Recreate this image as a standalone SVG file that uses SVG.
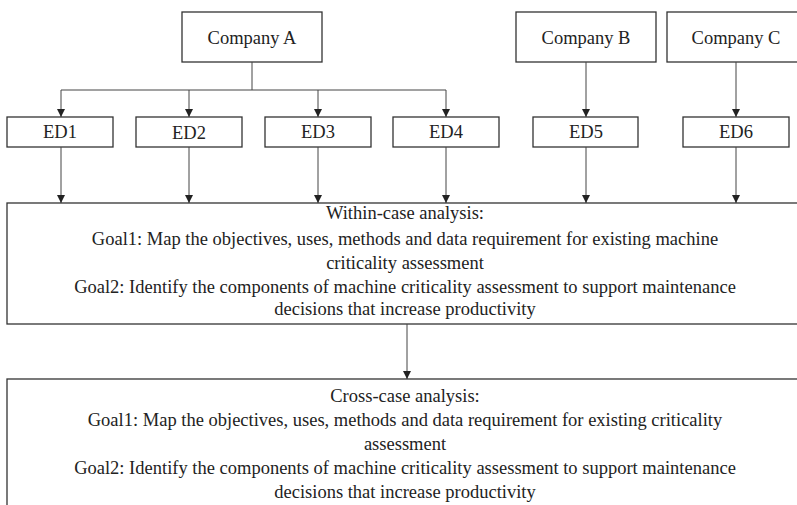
<svg xmlns="http://www.w3.org/2000/svg" width="797" height="505" viewBox="0 0 797 505">
<style>
.box{fill:#fff;stroke:#333;stroke-width:1.3}
.t{font-family:"Liberation Serif","Times New Roman",serif;font-size:18.5px;fill:#222;text-anchor:middle}
.c{fill:none;stroke:#444;stroke-width:1}
</style>
<defs>
<marker id="ah" markerWidth="8" markerHeight="8" refX="8" refY="4" orient="auto" markerUnits="userSpaceOnUse">
<path d="M0,0 L8,4 L0,8 Z" fill="#222"/>
</marker>
</defs>
<rect width="797" height="505" fill="#fff"/>
<g id="companyA"><rect class="box" x="182" y="12" width="140" height="50"/><text class="t" x="252" y="44">Company A</text></g>
<g id="companyB"><rect class="box" x="516" y="12" width="140" height="50"/><text class="t" x="586" y="44">Company B</text></g>
<g id="companyC"><rect class="box" x="667" y="12" width="140" height="50"/><text class="t" x="736" y="44">Company C</text></g>
<g id="ed1"><rect class="box" x="7" y="117" width="106" height="30"/><text class="t" x="60" y="138">ED1</text></g>
<g id="ed2"><rect class="box" x="136" y="117" width="106" height="30"/><text class="t" x="189" y="139">ED2</text></g>
<g id="ed3"><rect class="box" x="265" y="117" width="106" height="30"/><text class="t" x="318" y="138">ED3</text></g>
<g id="ed4"><rect class="box" x="393" y="117" width="106" height="30"/><text class="t" x="446" y="138">ED4</text></g>
<g id="ed5"><rect class="box" x="533" y="117" width="105" height="30"/><text class="t" x="586" y="138">ED5</text></g>
<g id="ed6"><rect class="box" x="683" y="117" width="106" height="30"/><text class="t" x="736" y="138">ED6</text></g>
<g id="within"><rect class="box" x="7" y="203" width="800" height="121"/>
<text class="t" x="405" y="219">Within-case analysis:</text>
<text class="t" x="405" y="245">Goal1: Map the objectives, uses, methods and data requirement for existing machine</text>
<text class="t" x="405" y="269">criticality assessment</text>
<text class="t" x="405" y="293">Goal2: Identify the components of machine criticality assessment to support maintenance</text>
<text class="t" x="405" y="315">decisions that increase productivity</text>
</g>
<g id="cross"><rect class="box" x="7" y="379" width="800" height="140"/>
<text class="t" x="405" y="402">Cross-case analysis:</text>
<text class="t" x="405" y="426">Goal1: Map the objectives, uses, methods and data requirement for existing criticality</text>
<text class="t" x="405" y="450">assessment</text>
<text class="t" x="405" y="474">Goal2: Identify the components of machine criticality assessment to support maintenance</text>
<text class="t" x="405" y="498">decisions that increase productivity</text>
</g>
<g id="connectors">
<path class="c" d="M252,62 V90 M61,90 H446"/>
<path class="c" d="M61,90 V117" marker-end="url(#ah)"/>
<path class="c" d="M189,90 V117" marker-end="url(#ah)"/>
<path class="c" d="M318,90 V117" marker-end="url(#ah)"/>
<path class="c" d="M446,90 V117" marker-end="url(#ah)"/>
<path class="c" d="M586,62 V117" marker-end="url(#ah)"/>
<path class="c" d="M736,62 V117" marker-end="url(#ah)"/>
<path class="c" d="M61,147 V203" marker-end="url(#ah)"/>
<path class="c" d="M189,147 V203" marker-end="url(#ah)"/>
<path class="c" d="M318,147 V203" marker-end="url(#ah)"/>
<path class="c" d="M446,147 V203" marker-end="url(#ah)"/>
<path class="c" d="M586,147 V203" marker-end="url(#ah)"/>
<path class="c" d="M736,147 V203" marker-end="url(#ah)"/>
<path class="c" d="M407,324 V379" marker-end="url(#ah)"/>
</g>
</svg>
